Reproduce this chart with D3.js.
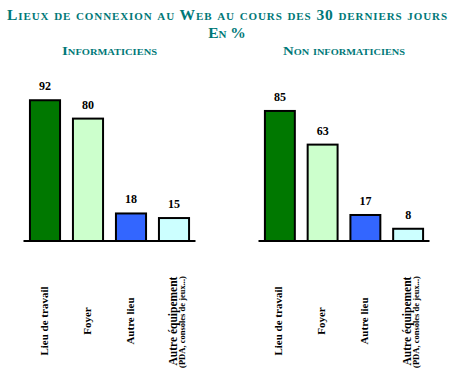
<!DOCTYPE html>
<html><head><meta charset="utf-8">
<script src="https://cdn.jsdelivr.net/npm/d3@7"></script>
<style>
body{margin:0;background:#fff;}
svg{display:block;}
</style></head>
<body>
<script>
const title = "Lieux de connexion au Web au cours des 30 derniers jours";
const subtitle = "En %";
const groups = ["Informaticiens", "Non informaticiens"];
const categories = ["Lieu de travail", "Foyer", "Autre lieu", "Autre équipement"];
const categoryNotes = ["", "", "", "(PDA, consoles de jeux...)"];
const informaticiens = [92, 80, 18, 15];
const nonInformaticiens = [85, 63, 17, 8];
const colors = ["#007800", "#ccffcc", "#3366ff", "#ccffff"];

const W = 461, H = 390;
const FONT = "Liberation Serif, Times New Roman, Times, serif";
const svg = d3.select("body").append("svg").attr("width", W).attr("height", H)
  .attr("font-family", FONT).attr("font-weight", "bold");
const teal = "#007878";

svg.append("text").attr("x", 227).attr("y", 20).attr("text-anchor", "middle")
  .attr("fill", teal).attr("font-size", 15.5).style("font-variant", "small-caps")
  .attr("textLength", 440).attr("lengthAdjust", "spacing").text(title);
svg.append("text").attr("x", 227).attr("y", 37.5).attr("text-anchor", "middle")
  .attr("fill", teal).attr("font-size", 15.5).style("font-variant", "small-caps").text(subtitle);

const y = d3.scaleLinear().domain([0, 100]).range([241, 88]);

const panels = [
  {name: groups[0], values: informaticiens, range: [23.5, 195.5], tx: 109.5, tw: 95},
  {name: groups[1], values: nonInformaticiens, range: [258.5, 429.5], tx: 344, tw: 122}
];

panels.forEach(p => {
  const x = d3.scaleBand().domain(categories).range(p.range).paddingInner(0.3).paddingOuter(0.15);
  const g = svg.append("g");
  g.append("text").attr("x", p.tx).attr("y", 55).attr("text-anchor", "middle")
    .attr("fill", teal).attr("font-size", 11.5).style("font-variant", "small-caps")
    .attr("textLength", p.tw).attr("lengthAdjust", "spacingAndGlyphs").text(p.name);

  g.selectAll("rect").data(p.values).join("rect")
    .attr("x", (d, i) => x(categories[i]))
    .attr("width", x.bandwidth())
    .attr("y", d => y(d))
    .attr("height", d => y(0) - y(d))
    .attr("fill", (d, i) => colors[i])
    .attr("stroke", "#000").attr("stroke-width", 2);

  g.append("line").attr("x1", p.range[0]).attr("x2", p.range[1])
    .attr("y1", y(0)).attr("y2", y(0)).attr("stroke", "#000").attr("stroke-width", 2);

  g.selectAll("text.val").data(p.values).join("text").attr("class", "val")
    .attr("x", (d, i) => x(categories[i]) + x.bandwidth() / 2)
    .attr("y", d => y(d) - 10)
    .attr("text-anchor", "middle").attr("font-size", 12).attr("fill", "#000")
    .text(d => d);

  categories.forEach((c, i) => {
    const cx = x(c) + x.bandwidth() / 2;
    if (categoryNotes[i]) {
      g.append("text").attr("transform", `translate(${cx + 3},321) rotate(-90)`)
        .attr("text-anchor", "middle").attr("font-size", 11.5).text(c);
      g.append("text").attr("transform", `translate(${cx + 11},322) rotate(-90)`)
        .attr("text-anchor", "middle").attr("font-size", 8.5).text(categoryNotes[i]);
    } else {
      g.append("text").attr("transform", `translate(${cx + 2.5},321) rotate(-90)`)
        .attr("text-anchor", "middle").attr("font-size", 11).text(c);
    }
  });
});
</script>
</body></html>
